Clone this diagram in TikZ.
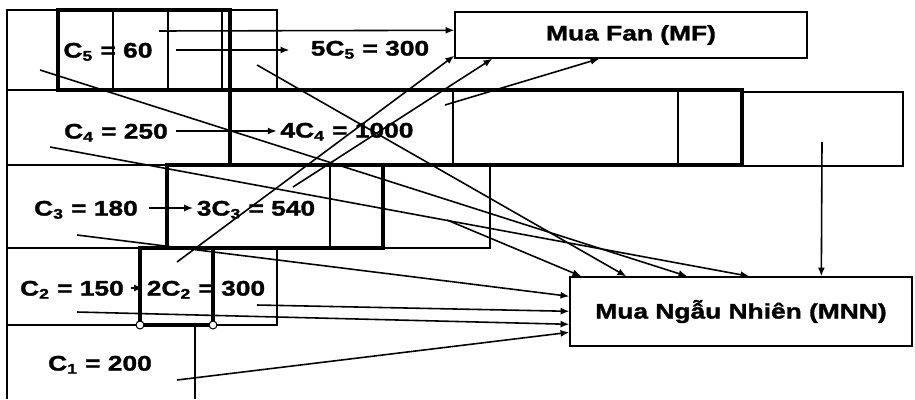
\documentclass[tikz,border=0pt]{standalone}
\usepackage{fontspec}
\setmainfont[FakeStretch=1.25, BoldFeatures={FakeBold=1.5}]{Liberation Sans}
\usetikzlibrary{arrows.meta,calc}

\begin{document}
\begin{tikzpicture}[x=0.02cm, y=-0.02cm, >={Latex[length=5pt,width=4pt]},
    thinline/.style={line width=0.6pt},
    boldline/.style={line width=2.3pt},
    link/.style={->, line width=0.9pt},
    lbl/.style={font=\fontsize{12}{14}\selectfont\bfseries, inner sep=2pt, text height=8.6pt, text depth=0pt},
    target/.style={draw, line width=0.8pt, font=\fontsize{12}{14}\selectfont\bfseries, inner sep=0pt}]
    \useasboundingbox (0,0) rectangle (915,399);

    % ==== ROW CELLS ====
    \draw[thinline] (7,10) rectangle (277,90);
    \foreach \x in {113,168,222}{
        \draw[thinline] (\x,10) -- (\x,90);
    }
    \draw[thinline] (7,90) rectangle (742,165);
    \foreach \x in {453,678}{
        \draw[thinline] (\x,90) -- (\x,165);
    }
    \draw[thinline] (742,92) rectangle (903,166);
    \draw[thinline] (7,165) rectangle (490,248);
    \draw[thinline] (330,165) -- (330,248);
    \draw[thinline] (7,248) rectangle (277,325);
    \draw[thinline] (7,325) -- (7,399) (195,325) -- (195,399);

    % ==== SELECTED CELLS ====
    \draw[boldline] (58,10) rectangle (230,90);
    \draw[boldline] (230,90) rectangle (742,165);
    \draw[boldline] (167,165) rectangle (383,248);
    \draw[boldline] (140,248) rectangle (213,325);
    \foreach \x in {140,213}{
        \draw[thinline, fill=white] (\x,325) circle[radius=4];
    }

    % ==== LABELS ====
    \node[lbl] (c5) at (108,50) {C\textsubscript{5} = 60};
    \node[lbl] (p5) at (370,48) {5C\textsubscript{5} = 300};
    \node[lbl] (c4) at (116,131) {C\textsubscript{4} = 250};
    \node[lbl] (p4) at (347,130) {4C\textsubscript{4} = 1000};
    \node[lbl] (c3) at (86,208) {C\textsubscript{3} = 180};
    \node[lbl] (p3) at (256,208) {3C\textsubscript{3} = 540};
    \node[lbl] (c2) at (72,288) {C\textsubscript{2} = 150};
    \node[lbl] (p2) at (206,288) {2C\textsubscript{2} = 300};
    \node[lbl] (c1) at (100,363) {C\textsubscript{1} = 200};

    \node[target, minimum width=7.04cm, minimum height=0.92cm] (mf) at (631,35) {Mua Fan (MF)};
    \node[target, minimum width=6.84cm, minimum height=1.38cm] (mnn) at (741,311.5) {Mua Ngẫu Nhiên (MNN)};

    % ==== ROW ARROWS ====
    \draw[link, shorten <=11pt, shorten >=10pt] (c5.east) -- (c5.east -| p5.west);
    \draw[link, shorten <=2.5pt] (c4.east) -- (c4.east -| p4.west);
    \draw[link, shorten <=4pt] (c3.east) -- (c3.east -| p3.west);
    \draw[link, shorten <=2pt] (c2.east) -- (c2.east -| p2.west);

    % ==== ARROWS TO MF ====
    \coordinate (f5) at (159,31);
    \coordinate (f2) at (177,262);
    \coordinate (f3) at (293,187);
    \coordinate (f4) at (445,105);
    \draw[link] (f5) -- ($(mf.north west)+(0,19)$);
    \draw[link] (f2) -- ($(mf.south west)+(0,-3)$);
    \draw[link] (f3) -- ($(mf.south west)+(38,0)$);
    \draw[link] (f4) -- ($(mf.south west)+(145,0)$);

    % ==== ARROWS TO MNN ====
    \foreach \sx/\sy/\dx [count=\i] in {40/70/118, 257/65/57, 50/147/180, 447/220/12, 822/142/252}{
        \coordinate (t\i) at (\sx,\sy);
        \draw[link] (t\i) -- ($(mnn.north west)+(\dx,0)$);
    }
    \foreach \sx/\sy/\dy [count=\i] in {77/235/20, 257/305/35, 77/312/48, 177/380/56}{
        \coordinate (l\i) at (\sx,\sy);
        \draw[link] (l\i) -- ($(mnn.north west)+(0,\dy)$);
    }
\end{tikzpicture}
\end{document}
